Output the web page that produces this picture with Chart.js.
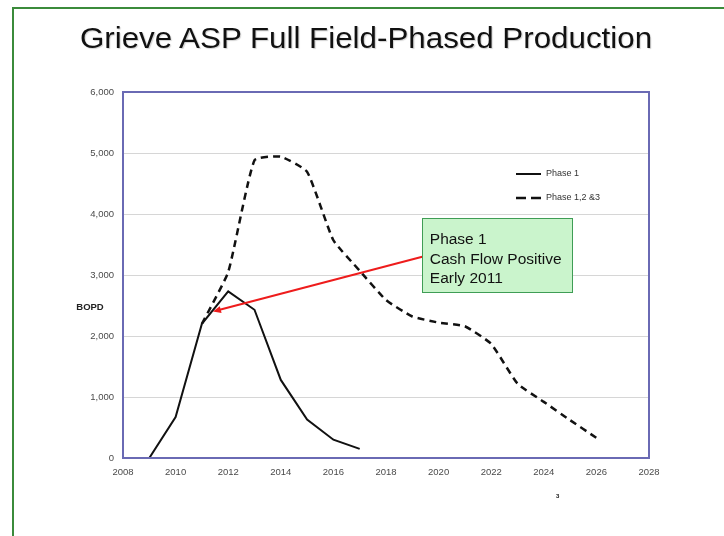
<!DOCTYPE html>
<html>
<head>
<meta charset="utf-8">
<script src="https://cdn.jsdelivr.net/npm/chart.js@4/dist/chart.umd.min.js"></script>
<style>
  html, body { margin: 0; padding: 0; background: #fff; }
  #slide { position: relative; width: 724px; height: 536px; overflow: hidden;
           font-family: "Liberation Sans", Arial, sans-serif; }
  #frame { position: absolute; left: 12px; top: 7px; width: 800px; height: 600px;
           border-left: 2px solid #3b8b3b; border-top: 2px solid #3b8b3b; }
  #title { position: absolute; left: 0; top: 24px; width: 732px; text-align: center;
           font-size: 29px; line-height: 29px; color: #111; white-space: nowrap;
           transform: scaleX(1.08); transform-origin: 366px 0;
           text-shadow: 1px 1px 1px rgba(0,0,0,0.18); }
  #pageNo { position: absolute; left: 556px; top: 493px; font-size: 6px; font-weight: bold; color: #111; }
  canvas { position: absolute; left: 0; top: 0; }
</style>
</head>
<body>
<div id="slide">
  <div id="frame"></div>
  <canvas id="chart" width="724" height="536"></canvas>
  <div id="title">Grieve ASP Full Field-Phased Production</div>
  <div id="pageNo">3</div>
</div>
<script>
// Production forecast, barrels of oil per day
const phase1Years = [2009, 2010, 2011, 2012, 2013, 2014, 2015, 2016, 2017];
const phase1Bopd  = [0, 670, 2200, 2730, 2430, 1280, 630, 300, 150];

const fullYears = [2011, 2012, 2013, 2014, 2015, 2016, 2017, 2018, 2019, 2020, 2021, 2022, 2023, 2024, 2025, 2026];
const fullBopd  = [2200, 3050, 4880, 4940, 4690, 3570, 3070, 2590, 2320, 2220, 2160, 1870, 1220, 920, 620, 330];

const seriesNames = ['Phase 1', 'Phase 1,2 &3'];
const yAxisLabel = 'BOPD';
const calloutLines = ['Phase 1', 'Cash Flow Positive', 'Early 2011'];

const FONT = '"Liberation Sans", Arial, sans-serif';

const toPoints = (xs, ys) => xs.map((x, i) => ({ x: x, y: ys[i] }));

// Plot frame, legend, axis caption and the callout with its arrow
const overlay = {
  id: 'overlay',
  afterDraw(chart, args, opts) {
    const { ctx, chartArea: a, scales: { x, y } } = chart;
    ctx.save();

    // plot frame
    ctx.strokeStyle = '#6a6ab4';
    ctx.lineWidth = 2;
    ctx.strokeRect(a.left, a.top, a.right - a.left, a.bottom - a.top);

    // axis caption
    ctx.fillStyle = '#222';
    ctx.font = 'bold 9.5px ' + FONT;
    ctx.textAlign = 'center';
    ctx.textBaseline = 'middle';
    ctx.fillText(yAxisLabel, 90, 307);

    // legend
    ctx.textAlign = 'left';
    ctx.font = '9px ' + FONT;
    chart.data.datasets.forEach((ds, i) => {
      const ly = 174 + i * 24;
      ctx.strokeStyle = ds.borderColor;
      ctx.lineWidth = ds.borderWidth;
      ctx.setLineDash(ds.borderDash ? [10, 5] : []);
      ctx.beginPath();
      ctx.moveTo(516, ly);
      ctx.lineTo(541, ly);
      ctx.stroke();
      ctx.setLineDash([]);
      ctx.fillStyle = '#333';
      ctx.fillText(ds.label, 546, ly);
    });

    // callout arrow
    const c = opts.callout;
    const tx = x.getPixelForValue(c.tip[0]), ty = y.getPixelForValue(c.tip[1]);
    const sx = x.getPixelForValue(c.tail[0]), sy = y.getPixelForValue(c.tail[1]);
    const ang = Math.atan2(ty - sy, tx - sx);
    ctx.strokeStyle = '#ee1c1c';
    ctx.fillStyle = '#ee1c1c';
    ctx.lineWidth = 2;
    ctx.beginPath();
    ctx.moveTo(sx, sy);
    ctx.lineTo(tx - Math.cos(ang) * 5, ty - Math.sin(ang) * 5);
    ctx.stroke();
    ctx.beginPath();
    ctx.moveTo(tx, ty);
    ctx.lineTo(tx - Math.cos(ang) * 8 + Math.sin(ang) * 3.5, ty - Math.sin(ang) * 8 - Math.cos(ang) * 3.5);
    ctx.lineTo(tx - Math.cos(ang) * 8 - Math.sin(ang) * 3.5, ty - Math.sin(ang) * 8 + Math.cos(ang) * 3.5);
    ctx.closePath();
    ctx.fill();

    // callout box
    const bl = x.getPixelForValue(c.box[0]), br = x.getPixelForValue(c.box[1]);
    const bt = y.getPixelForValue(c.box[2]), bb = y.getPixelForValue(c.box[3]);
    ctx.fillStyle = '#caf4cc';
    ctx.fillRect(bl, bt, br - bl, bb - bt);
    ctx.strokeStyle = '#3f9d55';
    ctx.lineWidth = 1;
    ctx.strokeRect(Math.round(bl) + 0.5, Math.round(bt) + 0.5, Math.round(br - bl), Math.round(bb - bt));
    ctx.fillStyle = '#111';
    ctx.font = '15.5px ' + FONT;
    ctx.textAlign = 'left';
    ctx.textBaseline = 'alphabetic';
    calloutLines.forEach((t, i) => ctx.fillText(t, bl + 7.5, bt + 26 + i * 19.5));

    ctx.restore();
  }
};

new Chart(document.getElementById('chart').getContext('2d'), {
  type: 'line',
  data: {
    datasets: [
      {
        label: seriesNames[0],
        data: toPoints(phase1Years, phase1Bopd),
        borderColor: '#111',
        borderWidth: 2,
        pointRadius: 0,
        tension: 0,
        fill: false
      },
      {
        label: seriesNames[1],
        data: toPoints(fullYears, fullBopd),
        borderColor: '#111',
        borderWidth: 2.5,
        borderDash: [7, 5],
        pointRadius: 0,
        tension: 0.15,
        fill: false
      }
    ]
  },
  options: {
    responsive: false,
    animation: false,
    events: [],
    layout: { padding: { top: 92, right: 75, bottom: 0, left: 0 } },
    plugins: {
      legend: { display: false },
      tooltip: { enabled: false },
      title: { display: false },
      overlay: {
        callout: {
          tip: [2011.42, 2400],
          tail: [2019.38, 3300],
          box: [2019.38, 2025.09, 3930, 2710]
        }
      }
    },
    scales: {
      x: {
        type: 'linear',
        min: 2008,
        max: 2028,
        ticks: {
          stepSize: 2,
          autoSkip: false,
          maxRotation: 0,
          padding: 9,
          color: '#4a4a4a',
          font: { family: FONT, size: 9.5 },
          callback: v => String(v)
        },
        grid: { display: false, drawTicks: false },
        border: { display: false },
        afterFit(s) { s.height = 78; }
      },
      y: {
        min: 0,
        max: 6000,
        ticks: {
          stepSize: 1000,
          padding: 9,
          color: '#4a4a4a',
          font: { family: FONT, size: 9.5 },
          callback: v => v.toLocaleString('en-US')
        },
        grid: { color: '#d6d6d6', lineWidth: 1, drawTicks: false },
        border: { display: false },
        afterFit(s) { s.width = 123; }
      }
    }
  },
  plugins: [overlay]
});
</script>
</body>
</html>
